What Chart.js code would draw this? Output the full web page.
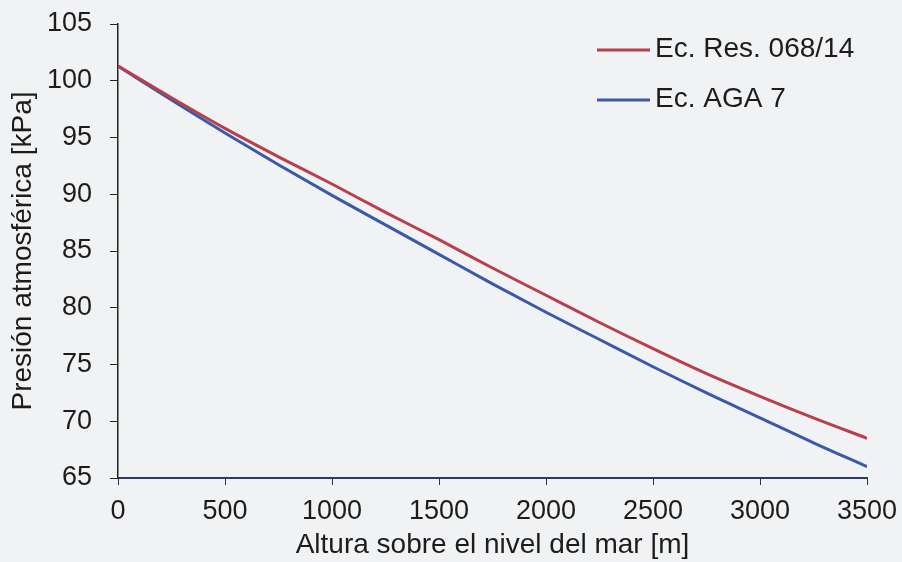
<!DOCTYPE html>
<html>
<head>
<meta charset="utf-8">
<script src="https://cdn.jsdelivr.net/npm/chart.js@4"></script>
<style>
    html, body { margin: 0; padding: 0; background: #f1f2f4; }
    #contenedor { width: 902px; height: 562px; }
</style>
</head>
<body>
<div id="contenedor"><canvas id="graficaPresion" width="902" height="562"></canvas></div>
<script>
// Datos
const alturas = [0, 250, 500, 750, 1000, 1250, 1500, 1750, 2000, 2250, 2500, 2750, 3000, 3250, 3500];
const presionRes068 = [101.3, 98.5, 95.8, 93.3, 90.9, 88.4, 86.0, 83.5, 81.1, 78.7, 76.4, 74.2, 72.2, 70.3, 68.5];
const presionAGA7 = [101.3, 98.3, 95.4, 92.6, 89.9, 87.3, 84.7, 82.1, 79.6, 77.2, 74.8, 72.5, 70.3, 68.1, 66.0];
const etiquetas = ['Ec. Res. 068/14', 'Ec. AGA 7'];
const colores = ['#b8404c', '#3b5aa6'];

const fuente = 'Arial, "Liberation Sans", sans-serif';

// Leyenda dibujada dentro del área de la gráfica (arriba a la derecha)
const leyendaInterna = {
    id: 'leyendaInterna',
    afterDraw(chart) {
        const ctx = chart.ctx;
        const area = chart.chartArea;
        const x0 = area.right - 270;
        ctx.save();
        ctx.font = '28px ' + fuente;
        ctx.textBaseline = 'middle';
        ctx.textAlign = 'left';
        chart.data.datasets.forEach((ds, i) => {
            const y = area.top + 26 + i * 50;
            ctx.strokeStyle = ds.borderColor;
            ctx.lineWidth = 3;
            ctx.beginPath();
            ctx.moveTo(x0, y);
            ctx.lineTo(x0 + 53, y);
            ctx.stroke();
            ctx.fillStyle = '#1c1c1c';
            ctx.fillText(ds.label, x0 + 58, y - 1);
        });
        ctx.restore();
    }
};

const ctx = document.getElementById('graficaPresion').getContext('2d');
new Chart(ctx, {
    type: 'line',
    data: {
        datasets: [
            {
                label: etiquetas[0],
                data: alturas.map((h, i) => ({ x: h, y: presionRes068[i] })),
                borderColor: colores[0],
                borderWidth: 3,
                pointRadius: 0,
                cubicInterpolationMode: 'monotone',
                fill: false
            },
            {
                label: etiquetas[1],
                data: alturas.map((h, i) => ({ x: h, y: presionAGA7[i] })),
                borderColor: colores[1],
                borderWidth: 3,
                pointRadius: 0,
                cubicInterpolationMode: 'monotone',
                fill: false
            }
        ]
    },
    options: {
        responsive: false,
        animation: false,
        layout: {
            padding: { left: 0, right: 35, top: 24, bottom: 0 }
        },
        plugins: {
            legend: { display: false },
            tooltip: { enabled: false }
        },
        scales: {
            x: {
                type: 'linear',
                min: 0,
                max: 3500,
                afterFit: (scale) => {
                    scale.height = 84;
                    scale.paddingLeft = 0;
                    scale.paddingRight = 0;
                },
                grid: {
                    drawOnChartArea: false,
                    drawTicks: true,
                    tickLength: 7,
                    color: '#333'
                },
                border: { color: '#2e3a5e', width: 2 },
                ticks: {
                    stepSize: 500,
                    padding: 10,
                    maxRotation: 0,
                    color: '#1c1c1c',
                    font: { family: fuente, size: 27 },
                    callback: (valor) => String(valor)
                },
                title: {
                    display: true,
                    text: 'Altura sobre el nivel del mar [m]',
                    color: '#1c1c1c',
                    padding: { top: 0, bottom: 0 },
                    font: { family: fuente, size: 28 }
                }
            },
            y: {
                min: 65,
                max: 105,
                afterFit: (scale) => {
                    scale.width = 118;
                    scale.paddingTop = 0;
                    scale.paddingBottom = 0;
                },
                grid: {
                    drawOnChartArea: false,
                    drawTicks: true,
                    tickLength: 8,
                    color: '#222'
                },
                border: { color: '#222', width: 1.5 },
                ticks: {
                    stepSize: 5,
                    padding: 18,
                    color: '#1c1c1c',
                    font: { family: fuente, size: 27 }
                },
                title: {
                    display: true,
                    text: 'Presión atmosférica [kPa]',
                    color: '#1c1c1c',
                    padding: { top: 6, bottom: 0 },
                    font: { family: fuente, size: 28 }
                }
            }
        }
    },
    plugins: [leyendaInterna]
});
</script>
</body>
</html>
